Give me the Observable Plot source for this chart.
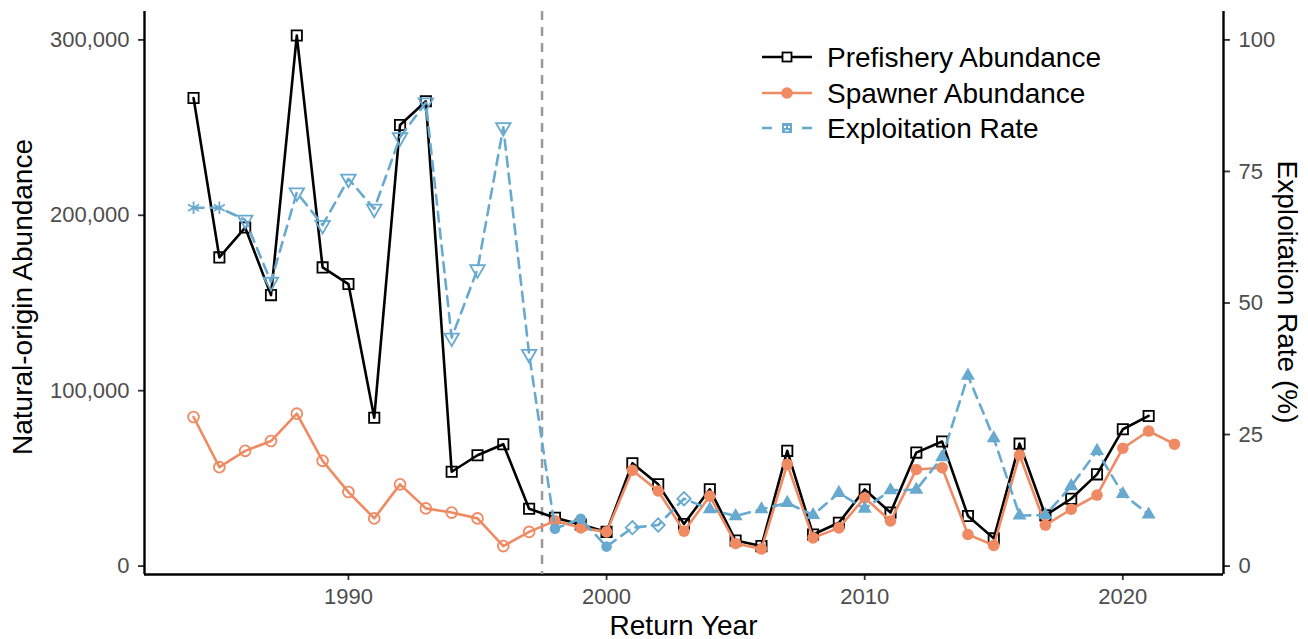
<!DOCTYPE html>
<html>
<head>
<meta charset="utf-8">
<script src="https://cdn.jsdelivr.net/npm/d3@7"></script>
<script src="https://cdn.jsdelivr.net/npm/@observablehq/plot@0.6"></script>
<style>
  html, body { margin: 0; padding: 0; background: #fff; }
  body { font-family: "Liberation Sans", Arial, sans-serif; }
  #chart { width: 1308px; height: 639px; }
</style>
</head>
<body>
<div id="chart"></div>
<script>
// ---------------- data ----------------
const years = [1984, 1985, 1986, 1987, 1988, 1989, 1990, 1991, 1992, 1993,
  1994, 1995, 1996, 1997, 1998, 1999, 2000, 2001, 2002, 2003,
  2004, 2005, 2006, 2007, 2008, 2009, 2010, 2011, 2012, 2013,
  2014, 2015, 2016, 2017, 2018, 2019, 2020, 2021, 2022];

const prefishery = [266900, 176000, 193000, 154500, 302500, 170300, 160800, 84600, 251500, 265000,
  53800, 63200, 69500, 32700, 27500, 23700, 19500, 58600, 46600, 24000,
  43800, 14600, 11400, 65700, 18000, 24700, 43700, 30500, 64700, 71000,
  28600, 15800, 69800, 28900, 38400, 52300, 78000, 85600, null];

const spawner = [85000, 56400, 65700, 71300, 86900, 60000, 42200, 27200, 46600, 32900,
  30500, 27200, 11400, 19500, 25800, 21800, 19500, 54600, 42800, 19900,
  39900, 12900, 9800, 58000, 16100, 21800, 39000, 25700, 55100, 56100,
  18000, 11800, 63300, 23400, 32400, 40500, 67200, 77000, 69500];

const exploitation = [68.1, 68.1, 65.8, 54.0, 71.0, 64.8, 73.6, 67.9, 81.5, 88.1,
  43.4, 56.4, 83.4, 40.3, 7.1, 9.0, 3.7, 7.3, 7.8, 12.8,
  10.8, 9.5, 10.8, 12.0, 9.7, 13.9, 10.9, 14.4, 14.5, 20.7,
  36.2, 24.3, 9.6, 9.7, 15.2, 21.9, 13.7, 9.8, null];

// estimation-method period for the exploitation-rate markers
const erPeriod = ["A", "A", "B", "B", "B", "B", "B", "B", "B", "B",
  "B", "B", "B", "B", "C", "C", "C", "D", "D", "D",
  "E", "E", "E", "E", "E", "E", "E", "E", "E", "E",
  "E", "E", "E", "E", "E", "E", "E", "E", "E"];

const xTicks = [1990, 2000, 2010, 2020];
const yTicksLeft = [0, 100000, 200000, 300000];
const yTicksRight = [0, 25, 50, 75, 100];
const breakYear = 1997.5;
const legendLabels = ["Prefishery Abundance", "Spawner Abundance", "Exploitation Rate"];

// ---------------- build ----------------
const rateFactor = 3000; // 100% on the right axis == 300,000 on the left
const rows = years.map((year, i) => ({
  year,
  pre: prefishery[i],
  spw: spawner[i],
  er: exploitation[i] == null ? null : exploitation[i] * rateFactor,
  period: erPeriod[i],
  early: year < breakYear
}));

const xDomain = [1982.1, 2023.9];
const yDomain = [-4800, 316200];

const BLACK = "#000000";
const ORANGE = "#EF8A62";
const BLUE = "#67A9CF";
const LW = 2.6;

const blueDot = (period, opts) => Plot.dot(rows.filter(d => d.period === period), {
  x: "year", y: "er", ...opts
});

const chart = Plot.plot({
  width: 1308,
  height: 639,
  marginLeft: 144,
  marginRight: 85,
  marginTop: 11,
  marginBottom: 65,
  style: { fontFamily: "'Liberation Sans', Arial, sans-serif", background: "#ffffff", overflow: "visible" },
  x: { domain: xDomain },
  y: { domain: yDomain },
  marks: [
    // axes
    Plot.axisX({ ticks: xTicks, tickFormat: d => String(d), tickSize: 6, tickPadding: 8, fontSize: 22, label: null }),
    Plot.axisY({ anchor: "left", ticks: yTicksLeft, tickFormat: d3.format(","), tickSize: 6, tickPadding: 9, fontSize: 22, label: null }),
    Plot.axisY({ anchor: "right", ticks: yTicksRight.map(v => v * rateFactor), tickFormat: d => String(Math.round(d / rateFactor)), tickSize: 6, tickPadding: 9, fontSize: 22, label: null }),
    Plot.ruleX(xDomain, { stroke: BLACK, strokeWidth: 2.4 }),
    Plot.ruleY([yDomain[0]], { stroke: BLACK, strokeWidth: 2.4 }),
    // break between periods
    Plot.ruleX([breakYear], { stroke: "#999999", strokeWidth: 2.5, strokeDasharray: "9,7" }),
    // prefishery abundance
    Plot.line(rows, { x: "year", y: "pre", stroke: BLACK, strokeWidth: LW }),
    Plot.dot(rows, { x: "year", y: "pre", symbol: "square", r: 5.8, fill: "none", stroke: BLACK, strokeWidth: 1.8 }),
    // spawner abundance
    Plot.line(rows, { x: "year", y: "spw", stroke: ORANGE, strokeWidth: LW }),
    Plot.dot(rows.filter(d => d.early), { x: "year", y: "spw", r: 5.4, fill: "none", stroke: ORANGE, strokeWidth: 1.8 }),
    Plot.dot(rows.filter(d => !d.early), { x: "year", y: "spw", r: 5.8, fill: ORANGE }),
    // exploitation rate
    Plot.line(rows, { x: "year", y: "er", stroke: BLUE, strokeWidth: LW, strokeDasharray: "10,7" }),
    blueDot("A", { symbol: "asterisk", r: 6, stroke: BLUE, strokeWidth: 1.8 }),
    blueDot("B", { symbol: "triangle", rotate: 180, r: 5.4, fill: "none", stroke: BLUE, strokeWidth: 1.8 }),
    blueDot("C", { r: 5.3, fill: BLUE }),
    blueDot("D", { symbol: "diamond2", r: 6, fill: "none", stroke: BLUE, strokeWidth: 1.8 }),
    blueDot("E", { symbol: "triangle", r: 5.2, fill: BLUE })
  ]
});

document.getElementById("chart").appendChild(chart);

// axis colours: ticks grey20, labels grey30
const svg = d3.select(chart);
svg.selectAll('g[aria-label$="tick label"]').attr("fill", "#4D4D4D");
svg.selectAll('g[aria-label$="-axis tick"]').attr("stroke", "#333333").attr("stroke-width", 1.8);

// axis titles
const title = (txt, x, y, rot) => svg.append("text")
  .attr("transform", `translate(${x},${y}) rotate(${rot})`)
  .attr("text-anchor", "middle")
  .attr("font-size", 28)
  .attr("fill", "#000")
  .attr("font-family", "'Liberation Sans', Arial, sans-serif")
  .text(txt);
title("Natural-origin Abundance", 32, 297, -90);
title("Exploitation Rate (%)", 1278, 292, 90);
title("Return Year", 683.5, 635, 0);

// legend
const lg = svg.append("g").attr("font-family", "'Liberation Sans', Arial, sans-serif").attr("text-anchor", "start");
const rowY = [57, 93, 128];
const lx0 = 762, lx1 = 812, lmx = 787;
// prefishery
lg.append("line").attr("x1", lx0).attr("x2", lx1).attr("y1", rowY[0]).attr("y2", rowY[0]).attr("stroke", BLACK).attr("stroke-width", LW);
lg.append("rect").attr("x", lmx - 4.5).attr("y", rowY[0] - 4.5).attr("width", 9).attr("height", 9).attr("fill", "#fff").attr("stroke", BLACK).attr("stroke-width", 1.8);
// spawner
lg.append("line").attr("x1", lx0).attr("x2", lx1).attr("y1", rowY[1]).attr("y2", rowY[1]).attr("stroke", ORANGE).attr("stroke-width", LW);
lg.append("circle").attr("cx", lmx).attr("cy", rowY[1]).attr("r", 5.8).attr("fill", ORANGE);
// exploitation
lg.append("line").attr("x1", lx0).attr("x2", lx0 + 10).attr("y1", rowY[2]).attr("y2", rowY[2]).attr("stroke", BLUE).attr("stroke-width", LW);
lg.append("line").attr("x1", lx1 - 10).attr("x2", lx1).attr("y1", rowY[2]).attr("y2", rowY[2]).attr("stroke", BLUE).attr("stroke-width", LW);
lg.append("rect").attr("x", lmx - 5).attr("y", rowY[2] - 5).attr("width", 10).attr("height", 10).attr("fill", BLUE);
lg.append("path").attr("d", `M${lmx - 3},${rowY[2] - 2}h2v2h-2z M${lmx + 1},${rowY[2] - 2}h2v2h-2z M${lmx - 2},${rowY[2] + 2}h4v1.2h-4z`).attr("fill", "#fff");
legendLabels.forEach((t, i) => {
  lg.append("text").attr("x", 827).attr("y", rowY[i]).attr("dy", "0.36em")
    .attr("text-anchor", "start")
    .attr("font-size", 28).attr("fill", "#000").text(t);
});
</script>
</body>
</html>
